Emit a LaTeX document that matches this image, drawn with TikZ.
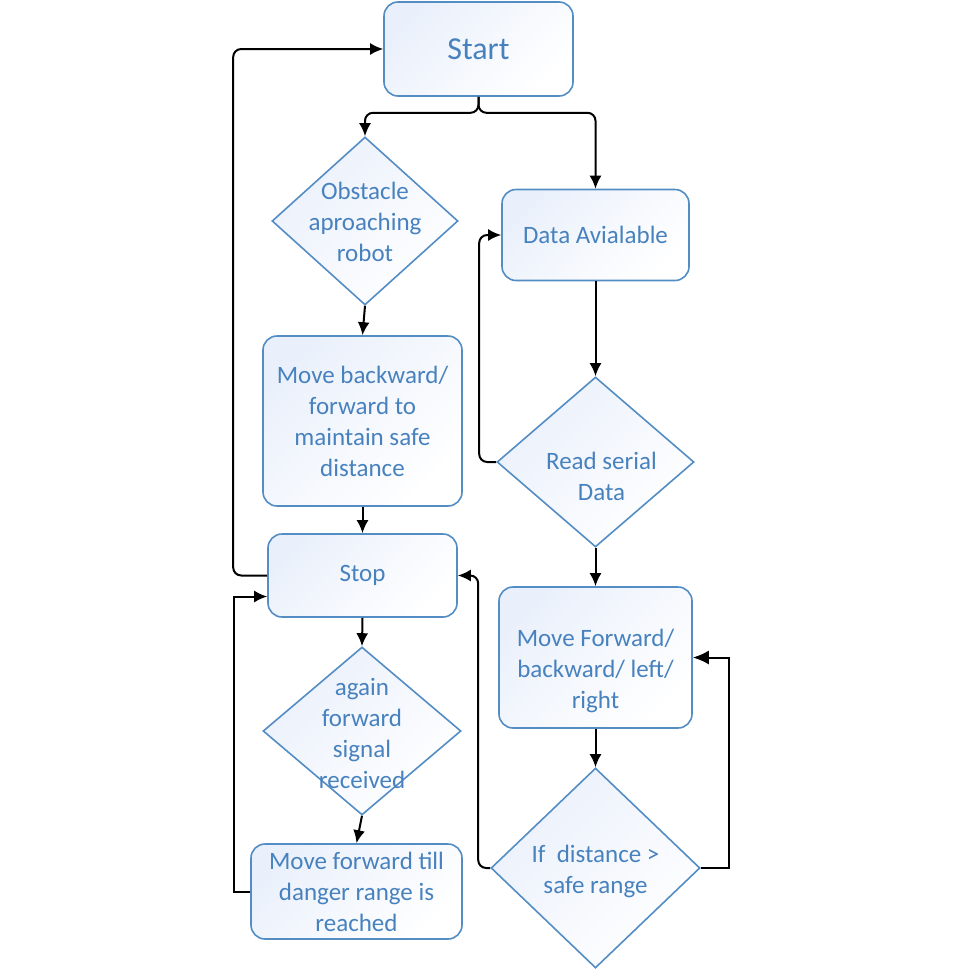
\documentclass[tikz,border=0pt]{standalone}
\usepackage{fontspec}
\setmainfont{Carlito}
\usetikzlibrary{shapes.geometric,arrows.meta,positioning}

\definecolor{boxline}{RGB}{84,141,196}
\definecolor{boxtext}{RGB}{72,130,190}
\definecolor{boxfill}{RGB}{234,240,251}

% centred text that does not widen its shape
\newcommand{\dtext}[2][-10pt]{\makebox[0pt]{\smash{\raisebox{#1}{\begin{tabular}{@{}c@{}}#2\end{tabular}}}}}

\tikzset{
  block/.style={rectangle, rounded corners=14pt, draw=boxline, line width=1.6pt,
    top color=boxfill, bottom color=white, shading angle=45,
    text=boxtext, font=\fontsize{25}{31}\selectfont, align=center, inner sep=2pt},
  decision/.style={diamond, draw=boxline, line width=1.6pt, inner sep=0pt,
    top color=boxfill, bottom color=white, shading angle=45,
    text=boxtext, font=\fontsize{25}{31}\selectfont},
  flow/.style={draw, line width=2pt, -{Latex[length=13pt,width=12pt]}},
}

\begin{document}
\begin{tikzpicture}[x=1pt, y=-1pt]
  \useasboundingbox (0,0) rectangle (960,970);
  % Define nodes
  \node[block, minimum width=189pt, minimum height=94pt, font=\fontsize{32}{38}\selectfont] (start) at (478.5,49) {Start};
  \node[decision, minimum width=186pt, minimum height=168pt] (obst) at (365,221) {\dtext{Obstacle\\aproaching\\robot}};
  \node[block, minimum width=187pt, minimum height=91pt] (data) at (595.5,235) {Data Avialable};
  \node[block, minimum width=199pt, minimum height=170pt] (back) at (362.5,421) {Move backward/\\forward to\\maintain safe\\distance};
  \node[decision, minimum width=197pt, minimum height=170pt] (read) at (595.5,462) {\dtext[-23pt]{\hspace*{12pt}Read serial\\\hspace*{12pt}Data}};
  \node[block, minimum width=189pt, minimum height=83pt] (stop) at (362.5,575.5) {Stop};
  \node[block, minimum width=193pt, minimum height=141pt] (move) at (595.5,657.5) {\dtext[-20pt]{Move Forward/\\backward/ left/\\right}};
  \node[decision, minimum width=198pt, minimum height=168pt] (again) at (362,731) {\dtext[-11pt]{again\\forward\\signal\\received}};
  \node[decision, minimum width=209pt, minimum height=200pt] (dist) at (595.5,868) {\dtext[-10pt]{If\ \ distance >\\safe range}};
  \node[block, minimum width=211pt, minimum height=95pt] (till) at (356.5,891.5) {Move forward till\\danger range is\\reached};
  % Connect nodes
  \draw[flow, rounded corners=8pt] (start.south) -- ++(0,16) -| (obst.north);
  \draw[flow, rounded corners=8pt] (start.south) -- ++(0,16) -| (data.north);
  \draw[flow] (obst.south) -- (back.north);
  \draw[flow] (back.south) -- (stop.north);
  \draw[flow, rounded corners=8pt] (stop.west) -- ++(-34,0) |- (start.west);
  \draw[flow] (data.south) -- (read.north);
  \draw[flow, rounded corners=8pt] (read.west) -- ++(-17,0) |- (data.west);
  \draw[flow] (read.south) -- (move.north);
  \draw[flow] (move.south) -- (dist.north);
  \draw[flow, -{Latex[length=16pt,width=14pt]}] (dist.east) -- ++(28,0) |- (move.east);
  \draw[flow, rounded corners=8pt] (dist.west) -- ++(-12,0) |- (stop.east);
  \draw[flow] (stop.south) -- (again.north);
  \draw[flow] (again.south) -- (till.north);
  \draw[flow] (till.west) -- ++(-16,0) |- ([yshift=-21pt]stop.west);
\end{tikzpicture}
\end{document}
